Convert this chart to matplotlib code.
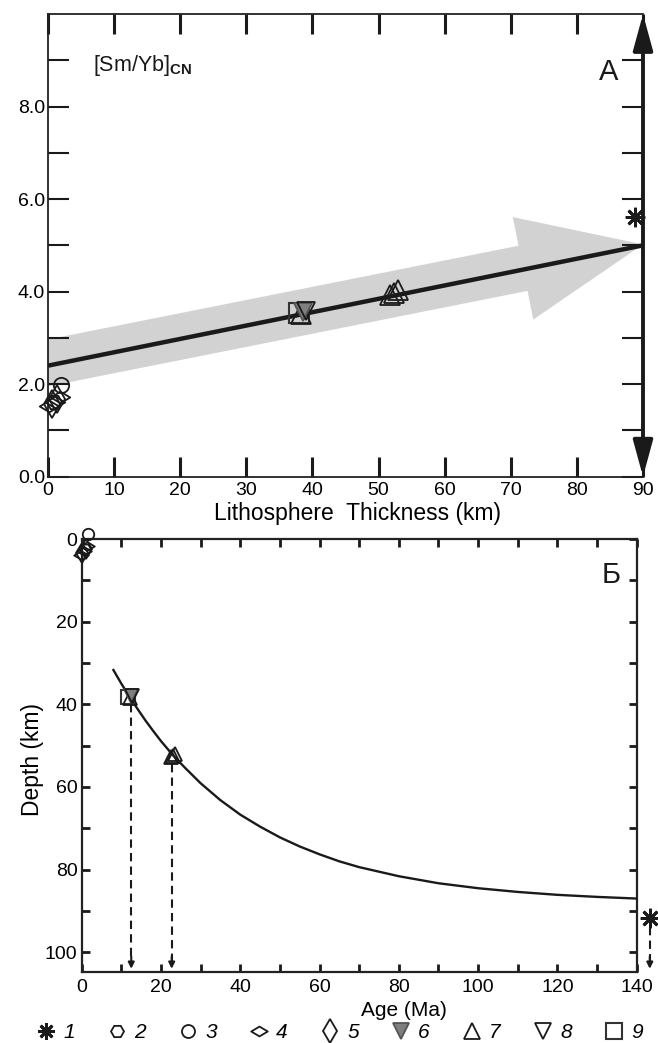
import matplotlib
matplotlib.use("Agg")
import matplotlib.pyplot as plt
import matplotlib.patches as mpatches
import matplotlib.transforms as mtrans
from matplotlib.lines import Line2D
from matplotlib.path import Path
import numpy as np

plt.rcParams['font.family'] = ['Liberation Sans', 'DejaVu Sans']
plt.rcParams['mathtext.fontset'] = 'custom'
plt.rcParams['mathtext.rm'] = 'Liberation Sans'
plt.rcParams['mathtext.bf'] = 'Liberation Sans:bold'

# ---------------- data ----------------
# Panel A: [Sm/Yb]CN vs lithosphere thickness
trend_thickness = [0, 90]
trend_ratio = [2.4, 5.0]

a_g1_x = [88.8]; a_g1_y = [5.62]
a_g2_x = [0.9]; a_g2_y = [1.62]
a_g3_x = [2.0]; a_g3_y = [1.98]
a_g4_x = [0.2, 1.0, 1.8]; a_g4_y = [1.52, 1.62, 1.72]
a_g5_x = [0.6, 1.4]; a_g5_y = [1.57, 1.67]
a_g6_x = [38.6]; a_g6_y = [3.55]
a_g7_x = [38.3, 51.8, 52.4, 53.0]; a_g7_y = [3.52, 3.93, 3.98, 4.04]
a_g8_x = [39.0]; a_g8_y = [3.58]
a_g9_x = [37.9]; a_g9_y = [3.53]

# Panel B: depth vs age
curve_age = [8, 10, 12, 14, 16, 18, 20, 23, 26, 30, 35, 40, 45, 50, 55, 60,
             65, 70, 80, 90, 100, 110, 120, 130, 140]
curve_depth = [31.7, 35.0, 38.1, 41.0, 43.8, 46.4, 48.9, 52.3, 55.3, 59.1, 63.2,
               66.7, 69.6, 72.2, 74.4, 76.3, 78.0, 79.4, 81.6, 83.3, 84.5, 85.4,
               86.1, 86.6, 87.0]

b_g1_x = [143.3]; b_g1_y = [91.8]
b_g2_x = [0.8]; b_g2_y = [2.5]
b_g3_x = [1.7]; b_g3_y = [-1.2]
b_g4_x = [-0.3, 0.5, 1.4]; b_g4_y = [3.8, 2.8, 1.8]
b_g5_x = [0.1, 1.0]; b_g5_y = [3.3, 2.3]
b_g6_x = [12.4]; b_g6_y = [38.0]
b_g7_x = [12.1, 22.5, 23.0, 23.5]; b_g7_y = [38.4, 52.8, 52.4, 52.0]
b_g8_x = [12.8]; b_g8_y = [38.1]
b_g9_x = [11.6]; b_g9_y = [38.2]

drop_age = [12.5, 22.7, 143.3]
drop_from = [40.0, 54.5, 94.0]
drop_to = 104.0

legend_labels = ['1', '2', '3', '4', '5', '6', '7', '8', '9']

# ---------------- style ----------------
K = '#1a1a1a'
GRAY = '#7f7f7f'
BAND = '#d2d2d2'
wide_diamond = Path([(-1.35, 0), (0, 0.8), (1.35, 0), (0, -0.8), (-1.35, 0)],
                    [1, 2, 2, 2, 79])

styles = [
    dict(marker=(8, 2, 0), ms=14, mew=2.0, mec=K, mfc=K),
    dict(marker='H', ms=11, mew=1.3, mec=K, mfc='none'),
    dict(marker='o', ms=11, mew=1.3, mec=K, mfc='none'),
    dict(marker=wide_diamond, ms=14, mew=1.3, mec=K, mfc='none'),
    dict(marker='d', ms=14, mew=1.3, mec=K, mfc='none'),
    dict(marker='v', ms=13, mew=1.3, mec='#555555', mfc=GRAY),
    dict(marker='^', ms=14, mew=1.3, mec=K, mfc='none'),
    dict(marker='v', ms=13, mew=1.3, mec=K, mfc='none'),
    dict(marker='s', ms=14, mew=1.5, mec='#333333', mfc='none'),
]

W, H = 658, 1043
fig = plt.figure(figsize=(W / 100, H / 100), dpi=100)

# ================= Panel A =================
axA = fig.add_axes([48 / W, 1 - 476.7 / H, 595 / W, 462.7 / H])
axA.set_xlim(0, 90)
axA.set_ylim(0, 10)

# grey arrow in an aspect-corrected space
bb_w, bb_h = 595.0, 462.7
kA = (bb_h / 10.0) / (bb_w / 90.0)
tr = mtrans.Affine2D().scale(1, 1 / kA) + axA.transData
x0, y0 = -1.0, 2.43
x1, y1 = 90.0, 5.02
arr = mpatches.FancyArrow(x0, y0 * kA, x1 - x0, (y1 - y0) * kA, width=6.96,
                          head_width=15.8, head_length=18.5,
                          length_includes_head=True, transform=tr,
                          facecolor=BAND, edgecolor='none', zorder=1)
axA.add_patch(arr)

axA.plot(trend_thickness, trend_ratio, color=K, lw=3.2, zorder=3,
         solid_capstyle='butt')

a_groups = [(a_g1_x, a_g1_y), (a_g2_x, a_g2_y), (a_g3_x, a_g3_y), (a_g4_x, a_g4_y),
            (a_g5_x, a_g5_y), (a_g6_x, a_g6_y), (a_g7_x, a_g7_y), (a_g8_x, a_g8_y),
            (a_g9_x, a_g9_y)]
order = [1, 3, 4, 2, 8, 6, 5, 7, 0]
for i in order:
    gx, gy = a_groups[i]
    axA.plot(gx, gy, ls='none', zorder=4, clip_on=False, **styles[i])

for s in ['left', 'bottom', 'top']:
    axA.spines[s].set_linewidth(1.3)
    axA.spines[s].set_color('#222222')
axA.spines['right'].set_visible(False)

axA.set_xticks(np.arange(0, 91, 10))
axA.set_yticks([0, 2, 4, 6, 8])
axA.set_yticks([1, 3, 5, 7, 9], minor=True)
axA.yaxis.set_major_formatter(matplotlib.ticker.FormatStrFormatter('%.1f'))
axA.tick_params(axis='x', direction='in', length=14.5, width=2.2, top=True,
                bottom=True, labelsize=14, pad=4, color=K)
axA.tick_params(axis='y', which='both', direction='in', length=15, width=1.5,
                left=True, right=True, labelsize=14, pad=2, color=K)
axA.set_xlabel('Lithosphere  Thickness (km)', fontsize=16.5)
axA.xaxis.label.set_va('center')
axA.xaxis.set_label_coords((357 - 48) / 595, (476.7 - 513) / 462.7)

# double-headed right axis
axA.annotate('', xy=(1, 1), xytext=(1, 0), xycoords='axes fraction',
             arrowprops=dict(arrowstyle=mpatches.ArrowStyle('<|-|>', head_length=1.1,
                                                            head_width=0.3),
                             mutation_scale=20, lw=2.8, color=K,
                             shrinkA=0, shrinkB=0))

axA.text((93 - 48) / 595, (476.7 - 65) / 462.7, r'[Sm/Yb]$_{\mathbf{CN}}$',
         transform=axA.transAxes, fontsize=15.5, ha='left', va='center', color=K)
axA.text((609 - 48) / 595, (476.7 - 72) / 462.7, 'А', transform=axA.transAxes,
         fontsize=21, ha='center', va='center', color=K)

# ================= Panel B =================
axB = fig.add_axes([81.7 / W, 1 - 971.7 / H, 555 / W, 432.7 / H])
axB.set_xlim(0, 140)
axB.set_ylim(104.7, 0)

axB.plot(curve_age, curve_depth, color=K, lw=1.7, zorder=3)

for xa, yf in zip(drop_age, drop_from):
    axB.plot([xa, xa], [yf, drop_to - 2.0], color=K, lw=1.5, ls=(0, (4, 2.5)),
             clip_on=False, zorder=2)
    axB.annotate('', xy=(xa, drop_to), xytext=(xa, drop_to - 3.0),
                 xycoords='data', annotation_clip=False,
                 arrowprops=dict(arrowstyle='-|>', lw=1.5, color=K,
                                 mutation_scale=9, shrinkA=0, shrinkB=0))

b_groups = [(b_g1_x, b_g1_y), (b_g2_x, b_g2_y), (b_g3_x, b_g3_y), (b_g4_x, b_g4_y),
            (b_g5_x, b_g5_y), (b_g6_x, b_g6_y), (b_g7_x, b_g7_y), (b_g8_x, b_g8_y),
            (b_g9_x, b_g9_y)]
for i in order:
    gx, gy = b_groups[i]
    st = dict(styles[i])
    st['ms'] = st['ms'] * 0.75
    if i == 0:
        st['ms'] = styles[i]['ms']
    axB.plot(gx, gy, ls='none', zorder=4, clip_on=False, **st)

for s in axB.spines.values():
    s.set_linewidth(1.6)
    s.set_color('#222222')

axB.set_xticks(np.arange(0, 141, 20))
axB.set_xticks(np.arange(10, 140, 20), minor=True)
axB.set_yticks(np.arange(0, 101, 20))
axB.set_yticks(np.arange(10, 101, 20), minor=True)
axB.tick_params(axis='both', which='both', direction='in', length=6, width=2,
                top=True, right=True, labelsize=14, color=K)
axB.tick_params(axis='x', pad=5)
axB.tick_params(axis='y', pad=3)
axB.set_xlabel('Age (Ma)', fontsize=15)
axB.xaxis.label.set_va('center')
axB.xaxis.set_label_coords((404 - 81.7) / 555, (971.7 - 1011) / 432.7)
axB.set_ylabel('Depth (km)', fontsize=16.5)
axB.yaxis.label.set_va('center')
axB.yaxis.set_label_coords((32 - 81.7) / 555, (971.7 - 760) / 432.7)

axB.text((611 - 81.7) / 555, (971.7 - 575) / 432.7, 'Б', transform=axB.transAxes,
         fontsize=21, ha='center', va='center', color=K)

# ================= Legend =================
handles = []
for st in styles:
    s2 = dict(st)
    s2['ms'] = st['ms'] * 0.85
    handles.append(Line2D([], [], ls='none', **s2))
fig.legend(handles, legend_labels, ncol=9, loc='center left',
           bbox_to_anchor=(36.0 / W, 1 - 1033 / H), frameon=False,
           prop=dict(family='Liberation Sans', style='italic', size=15),
           handlelength=1.0, handletextpad=0.3, columnspacing=1.55,
           borderaxespad=0, borderpad=0)

fig.savefig('out.png', dpi=100)
